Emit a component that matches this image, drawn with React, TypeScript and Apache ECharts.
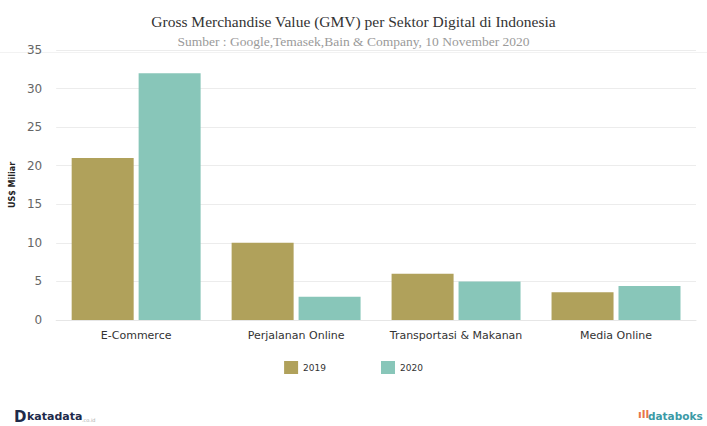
import React, { useEffect, useRef } from "react";
import * as echarts from "echarts";

const categories = ["E-Commerce", "Perjalanan Online", "Transportasi & Makanan", "Media Online"];
const values2019 = [21, 10, 6, 3.6];
const values2020 = [32, 3, 5, 4.4];
const seriesNames = ["2019", "2020"];

export default function App() {
  const ref = useRef<HTMLDivElement>(null);
  useEffect(() => {
    if (!ref.current) return;
    const chart = echarts.init(ref.current, null, { renderer: "svg" });
    chart.setOption({
      animation: false,
      backgroundColor: "#ffffff",
      title: {
        text: "Gross Merchandise Value (GMV) per Sektor Digital di Indonesia",
        subtext: "Sumber : Google,Temasek,Bain & Company, 10 November 2020",
        left: "center",
        top: 8,
        itemGap: 5,
        textStyle: { fontFamily: "Liberation Serif, serif", fontSize: 15.5, fontWeight: "normal", color: "#333333" },
        subtextStyle: { fontFamily: "Liberation Serif, serif", fontSize: 13.5, color: "#9a9a9a" },
      },
      legend: {
        data: seriesNames,
        bottom: 47,
        left: "center",
        itemWidth: 14,
        itemHeight: 13,
        itemGap: 55,
        icon: "rect",
        textStyle: { fontSize: 9, color: "#333", fontFamily: "DejaVu Sans, sans-serif" },
      },
      grid: { left: 56, right: 11, top: 50, bottom: 106, containLabel: false },
      xAxis: {
        type: "category",
        data: categories,
        axisLine: { show: true, lineStyle: { color: "#e6e6e6" } },
        axisTick: { show: false },
        axisLabel: { interval: 0, color: "#333333", fontSize: 11, margin: 10, fontFamily: "DejaVu Sans, sans-serif" },
      },
      yAxis: {
        type: "value",
        min: 0,
        max: 35,
        interval: 5,
        name: "US$ Miliar",
        nameLocation: "middle",
        nameGap: 38,
        nameTextStyle: { fontSize: 8, fontWeight: "bold", color: "#222", fontFamily: "DejaVu Sans, sans-serif" },
        axisLine: { show: false },
        axisTick: { show: false },
        axisLabel: { color: "#666666", fontSize: 12, margin: 14, fontFamily: "DejaVu Sans, sans-serif" },
        splitLine: { lineStyle: { color: "#ececec" } },
      },
      series: [
        {
          name: seriesNames[0],
          type: "bar",
          data: values2019,
          barWidth: 62,
          barGap: "8%",
          itemStyle: { color: "#b0a15b" },
        },
        {
          name: seriesNames[1],
          type: "bar",
          data: values2020,
          barWidth: 62,
          itemStyle: { color: "#88c6b9" },
        },
      ],
      graphic: [
        {
          type: "rect",
          left: 0,
          top: 52,
          shape: { width: 707, height: 1 },
          style: { fill: "#f2f2f2" },
          silent: true,
        },
        {
          type: "text",
          left: 14,
          top: 409,
          style: { text: "D", fontSize: 15, fontWeight: "bold", fill: "#1e2a4a", fontFamily: "DejaVu Sans, sans-serif" },
        },
        {
          type: "text",
          left: 27,
          top: 411,
          style: { text: "katadata", fontSize: 11, fontWeight: "bold", fill: "#1e2a4a", fontFamily: "DejaVu Sans, sans-serif" },
        },
        {
          type: "text",
          left: 82,
          top: 417,
          style: { text: ".co.id", fontSize: 5, fill: "#aaaaaa", fontFamily: "DejaVu Sans, sans-serif" },
        },
        {
          type: "text",
          left: 638,
          top: 409,
          style: { text: "ıll", fontSize: 11, fontWeight: "bold", fill: "#e8734a", fontFamily: "DejaVu Sans, sans-serif" },
        },
        {
          type: "text",
          left: 648,
          top: 410,
          style: { text: "databoks", fontSize: 10.5, fontWeight: "bold", fill: "#3c9aa6", fontFamily: "DejaVu Sans, sans-serif" },
        },
      ],
    });
    return () => chart.dispose();
  }, []);
  return <div ref={ref} style={{ width: 707, height: 426, position: "absolute", left: 0, top: 0 }} />;
}
